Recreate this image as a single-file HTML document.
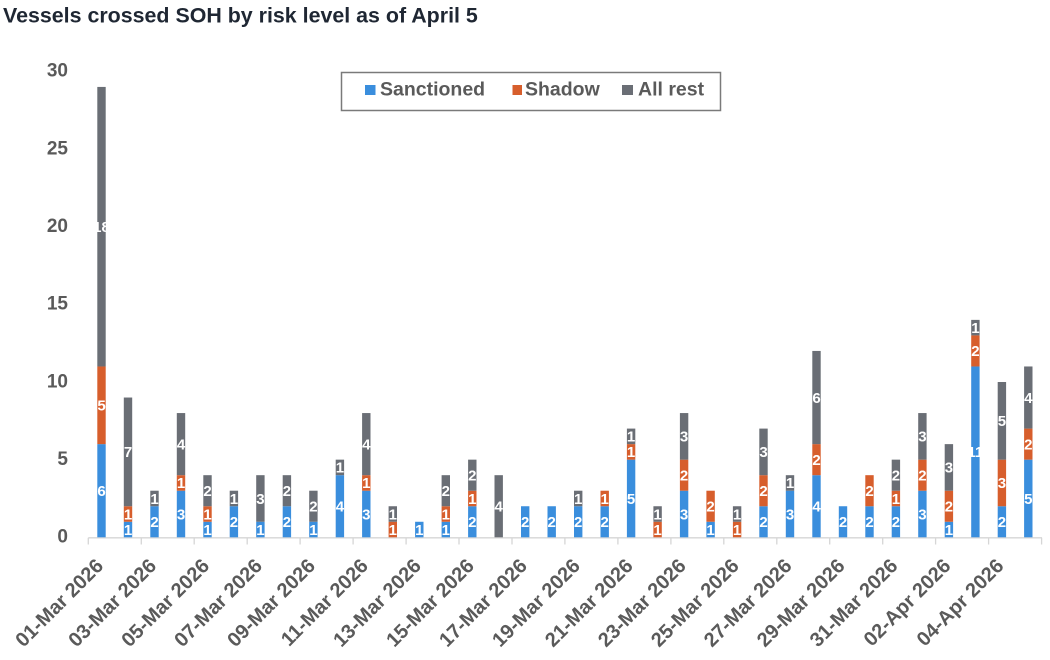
<!DOCTYPE html>
<html><head><meta charset="utf-8"><style>
html,body{margin:0;padding:0;background:#fff;}
svg{display:block;font-family:"Liberation Sans",Arial,sans-serif;}
</style></head><body>
<svg width="1050" height="660" viewBox="0 0 1050 660" xmlns="http://www.w3.org/2000/svg">
<rect width="1050" height="660" fill="#fff"/>
<text x="3" y="22.5" font-size="21.4" font-weight="bold" fill="#1f2733">Vessels crossed SOH by risk level as of April 5</text>

<!-- y labels -->
<g font-size="19" font-weight="bold" fill="#5a5a5a" text-anchor="end">
<text x="68" y="76.7">30</text>
<text x="68" y="154.3">25</text>
<text x="68" y="232">20</text>
<text x="68" y="309.7">15</text>
<text x="68" y="387.3">10</text>
<text x="68" y="465">5</text>
<text x="68" y="542.3">0</text>
</g>

<!-- axis -->
<g stroke="#d6d6d6" stroke-width="1.3">
<line x1="88.3" y1="537.8" x2="1042" y2="537.8"/>
<line x1="88.3" y1="537.8" x2="88.3" y2="544.5"/>
<line x1="141.3" y1="537.8" x2="141.3" y2="544.5"/>
<line x1="194.2" y1="537.8" x2="194.2" y2="544.5"/>
<line x1="247.2" y1="537.8" x2="247.2" y2="544.5"/>
<line x1="300.1" y1="537.8" x2="300.1" y2="544.5"/>
<line x1="353.1" y1="537.8" x2="353.1" y2="544.5"/>
<line x1="406.1" y1="537.8" x2="406.1" y2="544.5"/>
<line x1="459.0" y1="537.8" x2="459.0" y2="544.5"/>
<line x1="512.0" y1="537.8" x2="512.0" y2="544.5"/>
<line x1="564.9" y1="537.8" x2="564.9" y2="544.5"/>
<line x1="617.9" y1="537.8" x2="617.9" y2="544.5"/>
<line x1="670.9" y1="537.8" x2="670.9" y2="544.5"/>
<line x1="723.8" y1="537.8" x2="723.8" y2="544.5"/>
<line x1="776.8" y1="537.8" x2="776.8" y2="544.5"/>
<line x1="829.7" y1="537.8" x2="829.7" y2="544.5"/>
<line x1="882.7" y1="537.8" x2="882.7" y2="544.5"/>
<line x1="935.6" y1="537.8" x2="935.6" y2="544.5"/>
<line x1="988.6" y1="537.8" x2="988.6" y2="544.5"/>
<line x1="1041.6" y1="537.8" x2="1041.6" y2="544.5"/>
</g>

<!-- bars -->
<g transform="translate(0 537.3) scale(1 -15.53)">
<g fill="#3a8edd">
<rect x="97.3" y="0" width="8.4" height="6"/>
<rect x="123.8" y="0" width="8.4" height="1"/>
<rect x="150.3" y="0" width="8.4" height="2"/>
<rect x="176.8" y="0" width="8.4" height="3"/>
<rect x="203.3" y="0" width="8.4" height="1"/>
<rect x="229.7" y="0" width="8.4" height="2"/>
<rect x="256.2" y="0" width="8.4" height="1"/>
<rect x="282.7" y="0" width="8.4" height="2"/>
<rect x="309.2" y="0" width="8.4" height="1"/>
<rect x="335.7" y="0" width="8.4" height="4"/>
<rect x="362.1" y="0" width="8.4" height="3"/>
<rect x="415.1" y="0" width="8.4" height="1"/>
<rect x="441.6" y="0" width="8.4" height="1"/>
<rect x="468.1" y="0" width="8.4" height="2"/>
<rect x="521.0" y="0" width="8.4" height="2"/>
<rect x="547.5" y="0" width="8.4" height="2"/>
<rect x="574.0" y="0" width="8.4" height="2"/>
<rect x="600.5" y="0" width="8.4" height="2"/>
<rect x="626.9" y="0" width="8.4" height="5"/>
<rect x="679.9" y="0" width="8.4" height="3"/>
<rect x="706.4" y="0" width="8.4" height="1"/>
<rect x="759.3" y="0" width="8.4" height="2"/>
<rect x="785.8" y="0" width="8.4" height="3"/>
<rect x="812.3" y="0" width="8.4" height="4"/>
<rect x="838.8" y="0" width="8.4" height="2"/>
<rect x="865.3" y="0" width="8.4" height="2"/>
<rect x="891.7" y="0" width="8.4" height="2"/>
<rect x="918.2" y="0" width="8.4" height="3"/>
<rect x="944.7" y="0" width="8.4" height="1"/>
<rect x="971.2" y="0" width="8.4" height="11"/>
<rect x="997.7" y="0" width="8.4" height="2"/>
<rect x="1024.1" y="0" width="8.4" height="5"/>
</g>
<g fill="#d75e2c">
<rect x="97.3" y="6" width="8.4" height="5"/>
<rect x="123.8" y="1" width="8.4" height="1"/>
<rect x="176.8" y="3" width="8.4" height="1"/>
<rect x="203.3" y="1" width="8.4" height="1"/>
<rect x="362.1" y="3" width="8.4" height="1"/>
<rect x="388.6" y="0" width="8.4" height="1"/>
<rect x="441.6" y="1" width="8.4" height="1"/>
<rect x="468.1" y="2" width="8.4" height="1"/>
<rect x="600.5" y="2" width="8.4" height="1"/>
<rect x="626.9" y="5" width="8.4" height="1"/>
<rect x="653.4" y="0" width="8.4" height="1"/>
<rect x="679.9" y="3" width="8.4" height="2"/>
<rect x="706.4" y="1" width="8.4" height="2"/>
<rect x="732.9" y="0" width="8.4" height="1"/>
<rect x="759.3" y="2" width="8.4" height="2"/>
<rect x="812.3" y="4" width="8.4" height="2"/>
<rect x="865.3" y="2" width="8.4" height="2"/>
<rect x="891.7" y="2" width="8.4" height="1"/>
<rect x="918.2" y="3" width="8.4" height="2"/>
<rect x="944.7" y="1" width="8.4" height="2"/>
<rect x="971.2" y="11" width="8.4" height="2"/>
<rect x="997.7" y="2" width="8.4" height="3"/>
<rect x="1024.1" y="5" width="8.4" height="2"/>
</g>
<g fill="#6a6e75">
<rect x="97.3" y="11" width="8.4" height="18"/>
<rect x="123.8" y="2" width="8.4" height="7"/>
<rect x="150.3" y="2" width="8.4" height="1"/>
<rect x="176.8" y="4" width="8.4" height="4"/>
<rect x="203.3" y="2" width="8.4" height="2"/>
<rect x="229.7" y="2" width="8.4" height="1"/>
<rect x="256.2" y="1" width="8.4" height="3"/>
<rect x="282.7" y="2" width="8.4" height="2"/>
<rect x="309.2" y="1" width="8.4" height="2"/>
<rect x="335.7" y="4" width="8.4" height="1"/>
<rect x="362.1" y="4" width="8.4" height="4"/>
<rect x="388.6" y="1" width="8.4" height="1"/>
<rect x="441.6" y="2" width="8.4" height="2"/>
<rect x="468.1" y="3" width="8.4" height="2"/>
<rect x="494.5" y="0" width="8.4" height="4"/>
<rect x="574.0" y="2" width="8.4" height="1"/>
<rect x="626.9" y="6" width="8.4" height="1"/>
<rect x="653.4" y="1" width="8.4" height="1"/>
<rect x="679.9" y="5" width="8.4" height="3"/>
<rect x="732.9" y="1" width="8.4" height="1"/>
<rect x="759.3" y="4" width="8.4" height="3"/>
<rect x="785.8" y="3" width="8.4" height="1"/>
<rect x="812.3" y="6" width="8.4" height="6"/>
<rect x="891.7" y="3" width="8.4" height="2"/>
<rect x="918.2" y="5" width="8.4" height="3"/>
<rect x="944.7" y="3" width="8.4" height="3"/>
<rect x="971.2" y="13" width="8.4" height="1"/>
<rect x="997.7" y="5" width="8.4" height="5"/>
<rect x="1024.1" y="7" width="8.4" height="4"/>
</g>
</g>

<!-- data labels -->
<g fill="#fff" font-size="15" font-weight="bold" text-anchor="middle">
<text x="101.5" y="496.0">6</text><text x="101.5" y="410.6">5</text><text x="101.5" y="232.0">18</text>
<text x="128.0" y="534.8">1</text><text x="128.0" y="519.3">1</text><text x="128.0" y="457.2">7</text>
<text x="154.5" y="527.1">2</text><text x="154.5" y="503.8">1</text>
<text x="181.0" y="519.3">3</text><text x="181.0" y="488.2">1</text><text x="181.0" y="449.4">4</text>
<text x="207.5" y="534.8">1</text><text x="207.5" y="519.3">1</text><text x="207.5" y="496.0">2</text>
<text x="233.9" y="527.1">2</text><text x="233.9" y="503.8">1</text>
<text x="260.4" y="534.8">1</text><text x="260.4" y="503.8">3</text>
<text x="286.9" y="527.1">2</text><text x="286.9" y="496.0">2</text>
<text x="313.4" y="534.8">1</text><text x="313.4" y="511.5">2</text>
<text x="339.9" y="511.5">4</text><text x="339.9" y="472.7">1</text>
<text x="366.3" y="519.3">3</text><text x="366.3" y="488.2">1</text><text x="366.3" y="449.4">4</text>
<text x="392.8" y="534.8">1</text><text x="392.8" y="519.3">1</text>
<text x="419.3" y="534.8">1</text>
<text x="445.8" y="534.8">1</text><text x="445.8" y="519.3">1</text><text x="445.8" y="496.0">2</text>
<text x="472.3" y="527.1">2</text><text x="472.3" y="503.8">1</text><text x="472.3" y="480.5">2</text>
<text x="498.7" y="511.5">4</text>
<text x="525.2" y="527.1">2</text>
<text x="551.7" y="527.1">2</text>
<text x="578.2" y="527.1">2</text><text x="578.2" y="503.8">1</text>
<text x="604.7" y="527.1">2</text><text x="604.7" y="503.8">1</text>
<text x="631.1" y="503.8">5</text><text x="631.1" y="457.2">1</text><text x="631.1" y="441.7">1</text>
<text x="657.6" y="534.8">1</text><text x="657.6" y="519.3">1</text>
<text x="684.1" y="519.3">3</text><text x="684.1" y="480.5">2</text><text x="684.1" y="441.7">3</text>
<text x="710.6" y="534.8">1</text><text x="710.6" y="511.5">2</text>
<text x="737.1" y="534.8">1</text><text x="737.1" y="519.3">1</text>
<text x="763.5" y="527.1">2</text><text x="763.5" y="496.0">2</text><text x="763.5" y="457.2">3</text>
<text x="790.0" y="519.3">3</text><text x="790.0" y="488.2">1</text>
<text x="816.5" y="511.5">4</text><text x="816.5" y="465.0">2</text><text x="816.5" y="402.8">6</text>
<text x="843.0" y="527.1">2</text>
<text x="869.5" y="527.1">2</text><text x="869.5" y="496.0">2</text>
<text x="895.9" y="527.1">2</text><text x="895.9" y="503.8">1</text><text x="895.9" y="480.5">2</text>
<text x="922.4" y="519.3">3</text><text x="922.4" y="480.5">2</text><text x="922.4" y="441.7">3</text>
<text x="948.9" y="534.8">1</text><text x="948.9" y="511.5">2</text><text x="948.9" y="472.7">3</text>
<text x="975.4" y="457.2">11</text><text x="975.4" y="356.2">2</text><text x="975.4" y="333.0">1</text>
<text x="1001.9" y="527.1">2</text><text x="1001.9" y="488.2">3</text><text x="1001.9" y="426.1">5</text>
<text x="1028.3" y="503.8">5</text><text x="1028.3" y="449.4">2</text><text x="1028.3" y="402.8">4</text>
</g>

<!-- x labels -->
<g font-size="20" font-weight="bold" fill="#5a5a5a" text-anchor="end">
<text transform="translate(104.5 567) rotate(-45)">01-Mar 2026</text>
<text transform="translate(157.5 567) rotate(-45)">03-Mar 2026</text>
<text transform="translate(210.5 567) rotate(-45)">05-Mar 2026</text>
<text transform="translate(263.4 567) rotate(-45)">07-Mar 2026</text>
<text transform="translate(316.4 567) rotate(-45)">09-Mar 2026</text>
<text transform="translate(369.3 567) rotate(-45)">11-Mar 2026</text>
<text transform="translate(422.3 567) rotate(-45)">13-Mar 2026</text>
<text transform="translate(475.3 567) rotate(-45)">15-Mar 2026</text>
<text transform="translate(528.2 567) rotate(-45)">17-Mar 2026</text>
<text transform="translate(581.2 567) rotate(-45)">19-Mar 2026</text>
<text transform="translate(634.1 567) rotate(-45)">21-Mar 2026</text>
<text transform="translate(687.1 567) rotate(-45)">23-Mar 2026</text>
<text transform="translate(740.1 567) rotate(-45)">25-Mar 2026</text>
<text transform="translate(793.0 567) rotate(-45)">27-Mar 2026</text>
<text transform="translate(846.0 567) rotate(-45)">29-Mar 2026</text>
<text transform="translate(898.9 567) rotate(-45)">31-Mar 2026</text>
<text transform="translate(951.9 567) rotate(-45)">02-Apr 2026</text>
<text transform="translate(1004.9 567) rotate(-45)">04-Apr 2026</text>
</g>

<!-- legend -->
<rect x="341.5" y="72.5" width="379" height="38" fill="#fff" stroke="#7a7a7a" stroke-width="1.5"/>
<rect x="365" y="85" width="10.5" height="10" fill="#3a8edd"/>
<rect x="512.5" y="85" width="9.5" height="10" fill="#d75e2c"/>
<rect x="622" y="85" width="11" height="10" fill="#6a6e75"/>
<g font-size="19.5" font-weight="bold" fill="#5a5a5a">
<text x="380" y="95.5">Sanctioned</text>
<text x="525" y="95.5">Shadow</text>
<text x="638" y="95.5">All rest</text>
</g>
</svg>
</body></html>
